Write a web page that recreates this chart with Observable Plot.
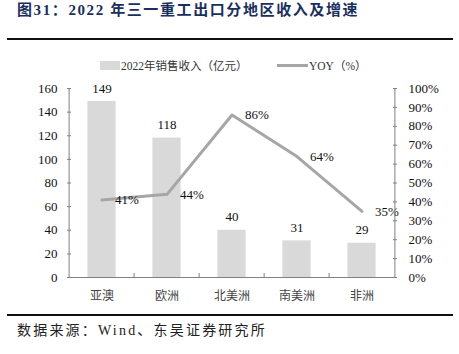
<!DOCTYPE html>
<html><head><meta charset="utf-8">
<script src="https://cdn.jsdelivr.net/npm/d3@7"></script>
<script src="https://cdn.jsdelivr.net/npm/@observablehq/plot@0.6"></script>
<style>
body{margin:0;background:#fff;}
#page{position:relative;width:459px;height:354px;overflow:hidden;font-family:"Liberation Serif","Noto Sans CJK SC",serif;}
#title{position:absolute;left:17px;top:0px;font-size:15px;font-weight:bold;color:#1b2f5c;letter-spacing:1.6px;line-height:20px;font-family:"Liberation Serif","Noto Sans CJK SC",serif;}
.rule{position:absolute;left:7px;width:446px;height:2px;background:#111;}
#source{position:absolute;left:17px;top:321px;font-size:14px;letter-spacing:2.2px;color:#222;line-height:20px;}
#legend{position:absolute;left:0;top:58px;width:459px;height:16px;font-size:11.5px;color:#333;}
#legend .sw{position:absolute;}
#legend .lt{position:absolute;top:0;line-height:16px;white-space:nowrap;}
#chart{position:absolute;left:0;top:45px;}
</style></head>
<body><div id="page">
<div id="title">图31：2022 年三一重工出口分地区收入及增速</div>
<div class="rule" style="top:38px"></div>
<div id="legend">
  <div class="sw" style="left:100px;top:3px;width:20px;height:9px;background:#d9d9d9"></div>
  <div class="lt" style="left:121px">2022年销售收入（亿元）</div>
  <div class="sw" style="left:277px;top:6px;width:31px;height:3px;background:#a6a6a6"></div>
  <div class="lt" style="left:309px">YOY（%）</div>
</div>
<div id="chart"></div>
<div class="rule" style="top:314px"></div>
<div id="source">数据来源：Wind、东吴证券研究所</div>
</div>
<script>
const categories = ["亚澳", "欧洲", "北美洲", "南美洲", "非洲"];
const revenue = [149, 118, 40, 31, 29];
const yoy = [41, 44, 86, 64, 35];
const leftTicks = [0, 20, 40, 60, 80, 100, 120, 140, 160];
const rightTicks = [0, 10, 20, 30, 40, 50, 60, 70, 80, 90, 100];

const ratio = 160 / 100; // right axis 0–100% mapped on left 0–160
const data = categories.map((c, i) => ({cat: c, rev: revenue[i], yoy: yoy[i]}));

const W = 459, H = 265, mL = 67, mR = 63, mT = 43, mB = 33;
const step = (W - mL - mR) / categories.length;
const serif = "Liberation Serif, Times New Roman, serif";

const chart = Plot.plot({
  width: W, height: H,
  marginLeft: mL, marginRight: mR, marginTop: mT, marginBottom: mB,
  style: {fontFamily: serif, fontSize: "13px", color: "#111", background: "transparent", overflow: "visible"},
  x: {domain: categories, padding: 0, axis: null},
  y: {domain: [0, 160], axis: null},
  marks: [
    Plot.barY(data, {x: "cat", y: "rev", fill: "#d9d9d9", insetLeft: 18.4, insetRight: 18.4}),
    Plot.line(data, {x: "cat", y: d => d.yoy * ratio, stroke: "#a6a6a6", strokeWidth: 3}),
    Plot.text(data, {x: "cat", y: "rev", text: d => String(d.rev), dy: -13, fontSize: 13, fill: "#111"}),
    Plot.text(data, {x: "cat", y: d => d.yoy * ratio, text: d => d.yoy + "%", dx: 13, textAnchor: "start", fontSize: 13, fill: "#111"}),
    // axis lines
    Plot.ruleY([0], {stroke: "#808080", strokeWidth: 1}),
    Plot.ruleX([categories[0]], {x: d => d, dx: -step / 2, stroke: "#808080"}),
    Plot.ruleX([categories[categories.length - 1]], {x: d => d, dx: step / 2, stroke: "#808080"}),
    // category boundary ticks
    Plot.ruleX(categories.slice(1), {x: d => d, dx: -step / 2, insetTop: (H - mT - mB) - 4, stroke: "#808080"}),
    // left axis
    Plot.axisY(leftTicks, {anchor: "left", tickSize: -4, tickPadding: 14, stroke: "#808080", fontSize: 13, fill: "#111", label: null}),
    // right axis
    Plot.axisY(rightTicks.map(t => t * ratio), {anchor: "right", tickSize: -4, tickPadding: 16, stroke: "#808080", fontSize: 13, fill: "#111", label: null, tickFormat: v => Math.round(v / ratio) + "%"}),
    // x axis labels
    Plot.axisX({tickSize: 0, tickPadding: 14, fontSize: 12, fontFamily: "Noto Sans CJK SC, sans-serif", fill: "#444", label: null})
  ]
});
document.getElementById("chart").appendChild(chart);
</script>
</body></html>
